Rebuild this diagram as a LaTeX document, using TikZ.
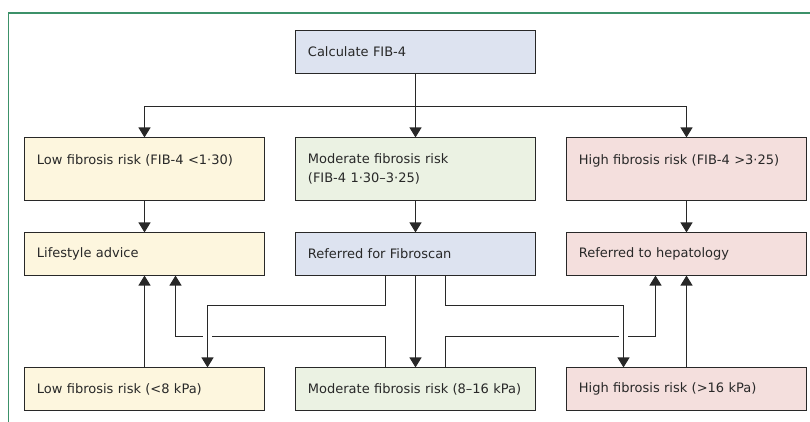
\documentclass[tikz,border=0pt]{standalone}
\usepackage{fontspec}
\setmainfont{DejaVu Sans}
\usepackage{tikz}
\usetikzlibrary{matrix, calc, positioning, arrows.meta}
\definecolor{lowcol}{RGB}{253,246,222}
\definecolor{modcol}{RGB}{235,242,227}
\definecolor{refcol}{RGB}{221,227,240}
\definecolor{highcol}{RGB}{244,223,221}
\definecolor{framecol}{RGB}{60,145,105}
\definecolor{inkcol}{RGB}{40,40,40}
\tikzset{
flow/.style={
  matrix of nodes,
  inner sep=0pt,
  outer sep=0pt,
  row sep=31pt,
  column sep=30pt,
  nodes={draw=inkcol, line width=0.9pt, rectangle, text width=215.1pt, align=left,
    inner xsep=12.5pt, minimum height=43.1pt, anchor=center, outer sep=0pt,
    font=\fontsize{13}{19.5}\selectfont, text=inkcol}
},
row 2/.style={nodes={minimum height=63.1pt}},
link/.style={draw=inkcol, line width=1.2pt, ->},
cross/.style={preaction={draw=white, line width=9pt, -, shorten <=3pt, shorten >=12pt}},
}

\begin{document}
\begin{tikzpicture}[x=1pt, y=-1pt, >={Triangle[width=12pt,length=10pt]}]
  \useasboundingbox (0,0) rectangle (810,422);
  % frame
  \draw[framecol, line width=1.3pt] (8.5,422) -- (8.5,13) -- (810,13);

  \matrix (m) [flow, anchor=north west] at (24,30) {
                                 & |[fill=refcol]|Calculate FIB-4 & \\[32pt]
    |[fill=lowcol]|Low fibrosis risk (FIB-4 <1·30)\newline\mbox{}
      & |[fill=modcol]|Moderate fibrosis risk\newline (FIB-4 1·30–3·25)
      & |[fill=highcol]|High fibrosis risk (FIB-4 >3·25)\newline\mbox{} \\
    |[fill=lowcol]|Lifestyle advice
      & |[fill=refcol]|Referred for Fibroscan
      & |[fill=highcol]|Referred to hepatology \\[60pt]
    |[fill=lowcol]|Low fibrosis risk (<8 kPa)
      & |[fill=modcol]|Moderate fibrosis risk (8–16 kPa)
      & |[fill=highcol]|High fibrosis risk (>16 kPa) \\
  };

  % FIB-4 split
  \draw[link] (m-1-2.south) -- (m-2-2.north);
  \draw[link] (m-1-2.south) -- ++(0,33) -| (m-2-1.north);
  \draw[link] (m-1-2.south) -- ++(0,33) -| (m-2-3.north);

  \draw[link] (m-2-1.south) -- (m-3-1.north);
  \draw[link] (m-2-2.south) -- (m-3-2.north);
  \draw[link] (m-2-3.south) -- (m-3-3.north);

  % Fibroscan results
  \draw[link] (m-4-1.north) -- (m-3-1.south);
  \draw[link] (m-4-3.north) -- (m-3-3.south);
  \draw[link] (m-3-2.south) -- (m-4-2.north);
  \draw[link] ($(m-4-2.north)+(-30,0)$) -- ++(0,-31) -| ($(m-3-1.south)+(31,0)$);
  \draw[link] ($(m-4-2.north)+(30,0)$) -- ++(0,-31) -| ($(m-3-3.south)+(-31,0)$);
  \draw[link, cross] ($(m-3-2.south)+(-30,0)$) -- ++(0,30) -| ($(m-4-1.north)+(63,0)$);
  \draw[link, cross] ($(m-3-2.south)+(30,0)$) -- ++(0,30) -| ($(m-4-3.north)+(-63,0)$);
\end{tikzpicture}
\end{document}
